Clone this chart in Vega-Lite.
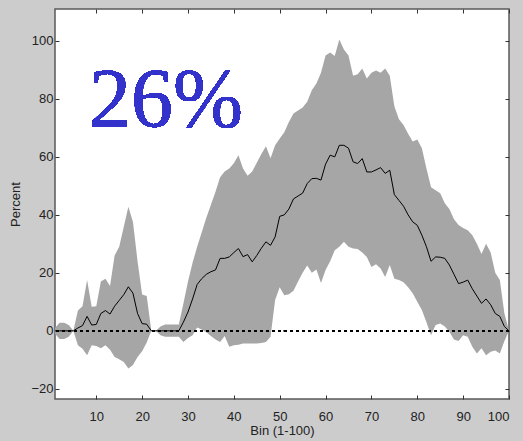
{
  "$schema": "https://vega.github.io/schema/vega-lite/v6.json",
  "width": 454,
  "height": 390,
  "autosize": "none",
  "padding": {"left": 55, "top": 9, "right": 14, "bottom": 42},
  "background": "#cccccc",
  "config": {
    "view": {"fill": "#ffffff", "stroke": "#5a5a5a", "strokeWidth": 1.5},
    "text": {"font": "Times New Roman"},
    "axis": {
      "labelFont": "Liberation Sans",
      "labelFontSize": 13,
      "labelColor": "#222222",
      "titleFont": "Liberation Sans",
      "titleFontSize": 13,
      "titleFontWeight": "normal",
      "titleColor": "#222222",
      "grid": false,
      "domain": false,
      "tickColor": "#333333",
      "tickSize": -4,
      "tickWidth": 1
    }
  },
  "data": {
    "values": [
      {"bin": 1, "mean": 0, "lo": -1, "hi": 1},
      {"bin": 2, "mean": 0, "lo": -2.8, "hi": 2.8},
      {"bin": 3, "mean": 0, "lo": -2.8, "hi": 2.8},
      {"bin": 4, "mean": 0, "lo": -2, "hi": 2},
      {"bin": 5, "mean": 0, "lo": 0, "hi": 0},
      {"bin": 6, "mean": 1, "lo": -5, "hi": 7},
      {"bin": 7, "mean": 1.8, "lo": -6.2, "hi": 8.5},
      {"bin": 8, "mean": 5, "lo": -8.4, "hi": 17.5},
      {"bin": 9, "mean": 2, "lo": -5, "hi": 8.3},
      {"bin": 10, "mean": 2.2, "lo": -5.2, "hi": 8.5},
      {"bin": 11, "mean": 6, "lo": -6, "hi": 17},
      {"bin": 12, "mean": 7, "lo": -5, "hi": 18},
      {"bin": 13, "mean": 5.8, "lo": -6.5, "hi": 15.5},
      {"bin": 14, "mean": 8.5, "lo": -9, "hi": 26},
      {"bin": 15, "mean": 10.5, "lo": -9.8, "hi": 29},
      {"bin": 16, "mean": 12.5, "lo": -10.7, "hi": 35.9},
      {"bin": 17, "mean": 15.2, "lo": -13, "hi": 42.8},
      {"bin": 18, "mean": 13, "lo": -11.8, "hi": 37.5},
      {"bin": 19, "mean": 6, "lo": -9, "hi": 24},
      {"bin": 20, "mean": 2.5, "lo": -7, "hi": 12.5},
      {"bin": 21, "mean": 2.3, "lo": -4, "hi": 12},
      {"bin": 22, "mean": 0, "lo": 0, "hi": 0},
      {"bin": 23, "mean": 0, "lo": 0, "hi": 0},
      {"bin": 24, "mean": 0, "lo": -1.5, "hi": 1.5},
      {"bin": 25, "mean": 0, "lo": -2, "hi": 2.2},
      {"bin": 26, "mean": 0, "lo": -2, "hi": 2.2},
      {"bin": 27, "mean": 0, "lo": -2, "hi": 2.2},
      {"bin": 28, "mean": 0, "lo": -2, "hi": 2.2},
      {"bin": 29, "mean": 3, "lo": -3.8, "hi": 9.4},
      {"bin": 30, "mean": 6.5, "lo": -2.5, "hi": 17},
      {"bin": 31, "mean": 11, "lo": -1.5, "hi": 23.5},
      {"bin": 32, "mean": 16, "lo": 1.2, "hi": 29},
      {"bin": 33, "mean": 18, "lo": 0.5, "hi": 34},
      {"bin": 34, "mean": 19.5, "lo": -0.5, "hi": 39},
      {"bin": 35, "mean": 20.4, "lo": -1.8, "hi": 43.5},
      {"bin": 36, "mean": 21, "lo": -3, "hi": 48},
      {"bin": 37, "mean": 25, "lo": -3.8, "hi": 53},
      {"bin": 38, "mean": 25, "lo": -1.8, "hi": 55},
      {"bin": 39, "mean": 25.5, "lo": -5.5, "hi": 56},
      {"bin": 40, "mean": 27, "lo": -5, "hi": 57.8},
      {"bin": 41, "mean": 28.4, "lo": -4.8, "hi": 60.6},
      {"bin": 42, "mean": 25.6, "lo": -4.4, "hi": 56},
      {"bin": 43, "mean": 26.3, "lo": -4.4, "hi": 53.5},
      {"bin": 44, "mean": 23.8, "lo": -4.4, "hi": 55},
      {"bin": 45, "mean": 26, "lo": -4.4, "hi": 58},
      {"bin": 46, "mean": 28.5, "lo": -4.2, "hi": 61},
      {"bin": 47, "mean": 30.7, "lo": -3.8, "hi": 63.7},
      {"bin": 48, "mean": 29.5, "lo": -2, "hi": 59.5},
      {"bin": 49, "mean": 32.4, "lo": 10.6, "hi": 64},
      {"bin": 50, "mean": 39.5, "lo": 15, "hi": 66.3},
      {"bin": 51, "mean": 40, "lo": 12.3, "hi": 68.5},
      {"bin": 52, "mean": 42, "lo": 12.6, "hi": 72},
      {"bin": 53, "mean": 45.5, "lo": 13.8, "hi": 75},
      {"bin": 54, "mean": 46.5, "lo": 17, "hi": 76},
      {"bin": 55, "mean": 47.5, "lo": 20, "hi": 77},
      {"bin": 56, "mean": 50.8, "lo": 22.5, "hi": 79},
      {"bin": 57, "mean": 52.5, "lo": 20, "hi": 83},
      {"bin": 58, "mean": 52.6, "lo": 21.2, "hi": 85.3},
      {"bin": 59, "mean": 52, "lo": 16.5, "hi": 89},
      {"bin": 60, "mean": 57.5, "lo": 21, "hi": 95},
      {"bin": 61, "mean": 60.6, "lo": 24, "hi": 96},
      {"bin": 62, "mean": 60, "lo": 27.8, "hi": 94.8},
      {"bin": 63, "mean": 64, "lo": 29, "hi": 100.5},
      {"bin": 64, "mean": 64, "lo": 30.7, "hi": 97},
      {"bin": 65, "mean": 63, "lo": 29, "hi": 95},
      {"bin": 66, "mean": 58.3, "lo": 28.4, "hi": 88},
      {"bin": 67, "mean": 57.7, "lo": 28.2, "hi": 88.5},
      {"bin": 68, "mean": 59.4, "lo": 27, "hi": 90.5},
      {"bin": 69, "mean": 54.8, "lo": 25.5, "hi": 87},
      {"bin": 70, "mean": 54.8, "lo": 22, "hi": 89},
      {"bin": 71, "mean": 55.5, "lo": 23, "hi": 89.8},
      {"bin": 72, "mean": 56.3, "lo": 21.5, "hi": 89},
      {"bin": 73, "mean": 54.3, "lo": 18.6, "hi": 90.5},
      {"bin": 74, "mean": 55.4, "lo": 22.7, "hi": 88},
      {"bin": 75, "mean": 47, "lo": 18, "hi": 77.5},
      {"bin": 76, "mean": 45, "lo": 17.5, "hi": 73},
      {"bin": 77, "mean": 43, "lo": 16.8, "hi": 71},
      {"bin": 78, "mean": 40, "lo": 15, "hi": 68},
      {"bin": 79, "mean": 37.6, "lo": 13, "hi": 65.3},
      {"bin": 80, "mean": 36.4, "lo": 10, "hi": 66},
      {"bin": 81, "mean": 33, "lo": 7.2, "hi": 63},
      {"bin": 82, "mean": 29, "lo": 3, "hi": 56},
      {"bin": 83, "mean": 24, "lo": -1.5, "hi": 49.5},
      {"bin": 84, "mean": 25.5, "lo": 2, "hi": 48.5},
      {"bin": 85, "mean": 25.4, "lo": 2.5, "hi": 47.5},
      {"bin": 86, "mean": 25, "lo": 1.5, "hi": 44},
      {"bin": 87, "mean": 22.7, "lo": -0.3, "hi": 42},
      {"bin": 88, "mean": 19.5, "lo": -3, "hi": 38.5},
      {"bin": 89, "mean": 16.3, "lo": -3.5, "hi": 36.5},
      {"bin": 90, "mean": 16.8, "lo": -1.5, "hi": 35.5},
      {"bin": 91, "mean": 17.5, "lo": -2, "hi": 34.7},
      {"bin": 92, "mean": 14.5, "lo": -5.5, "hi": 33},
      {"bin": 93, "mean": 12, "lo": -7.8, "hi": 30},
      {"bin": 94, "mean": 9.5, "lo": -6, "hi": 26.5},
      {"bin": 95, "mean": 11, "lo": -8.4, "hi": 30},
      {"bin": 96, "mean": 9, "lo": -7.2, "hi": 27},
      {"bin": 97, "mean": 6, "lo": -6.8, "hi": 20},
      {"bin": 98, "mean": 5, "lo": -7.8, "hi": 17.5},
      {"bin": 99, "mean": 1.5, "lo": -3.5, "hi": 6},
      {"bin": 100, "mean": 0, "lo": 0, "hi": 0}
    ]
  },
  "resolve": {"axis": {"x": "independent", "y": "independent"}},
  "layer": [
    {
      "mark": {"type": "area", "color": "#a6a6a6", "opacity": 1},
      "encoding": {
        "x": {
          "field": "bin", "type": "quantitative",
          "scale": {"domain": [1, 100], "nice": false, "zero": false},
          "axis": {"orient": "bottom", "values": [10, 20, 30, 40, 50, 60, 70, 80, 90, 100], "title": "Bin (1-100)", "labelPadding": 15, "titlePadding": 1}
        },
        "y": {
          "field": "lo", "type": "quantitative",
          "scale": {"domain": [-23.5, 111], "nice": false, "zero": false},
          "axis": {"orient": "left", "values": [-20, 0, 20, 40, 60, 80, 100], "title": "Percent", "labelPadding": 6, "titlePadding": 8}
        },
        "y2": {"field": "hi"}
      }
    },
    {
      "mark": {"type": "rule", "color": "#000000", "strokeDash": [3, 3], "strokeWidth": 1},
      "encoding": {"y": {"datum": 0, "axis": null}}
    },
    {
      "mark": {"type": "line", "color": "#000000", "strokeWidth": 1},
      "encoding": {
        "x": {"field": "bin", "type": "quantitative", "axis": {"orient": "top", "values": [10, 20, 30, 40, 50, 60, 70, 80, 90, 100], "labels": false, "title": null}},
        "y": {"field": "mean", "type": "quantitative", "axis": {"orient": "right", "values": [-20, 0, 20, 40, 60, 80, 100], "labels": false, "title": null}}
      }
    },
    {
      "mark": {"type": "text", "text": "26%", "font": "Times New Roman", "fontSize": 84, "color": "#3333cc", "align": "center", "baseline": "alphabetic"},
      "encoding": {"x": {"datum": 25.2, "axis": null}, "y": {"datum": 70.3, "axis": null}}
    }
  ]
}
